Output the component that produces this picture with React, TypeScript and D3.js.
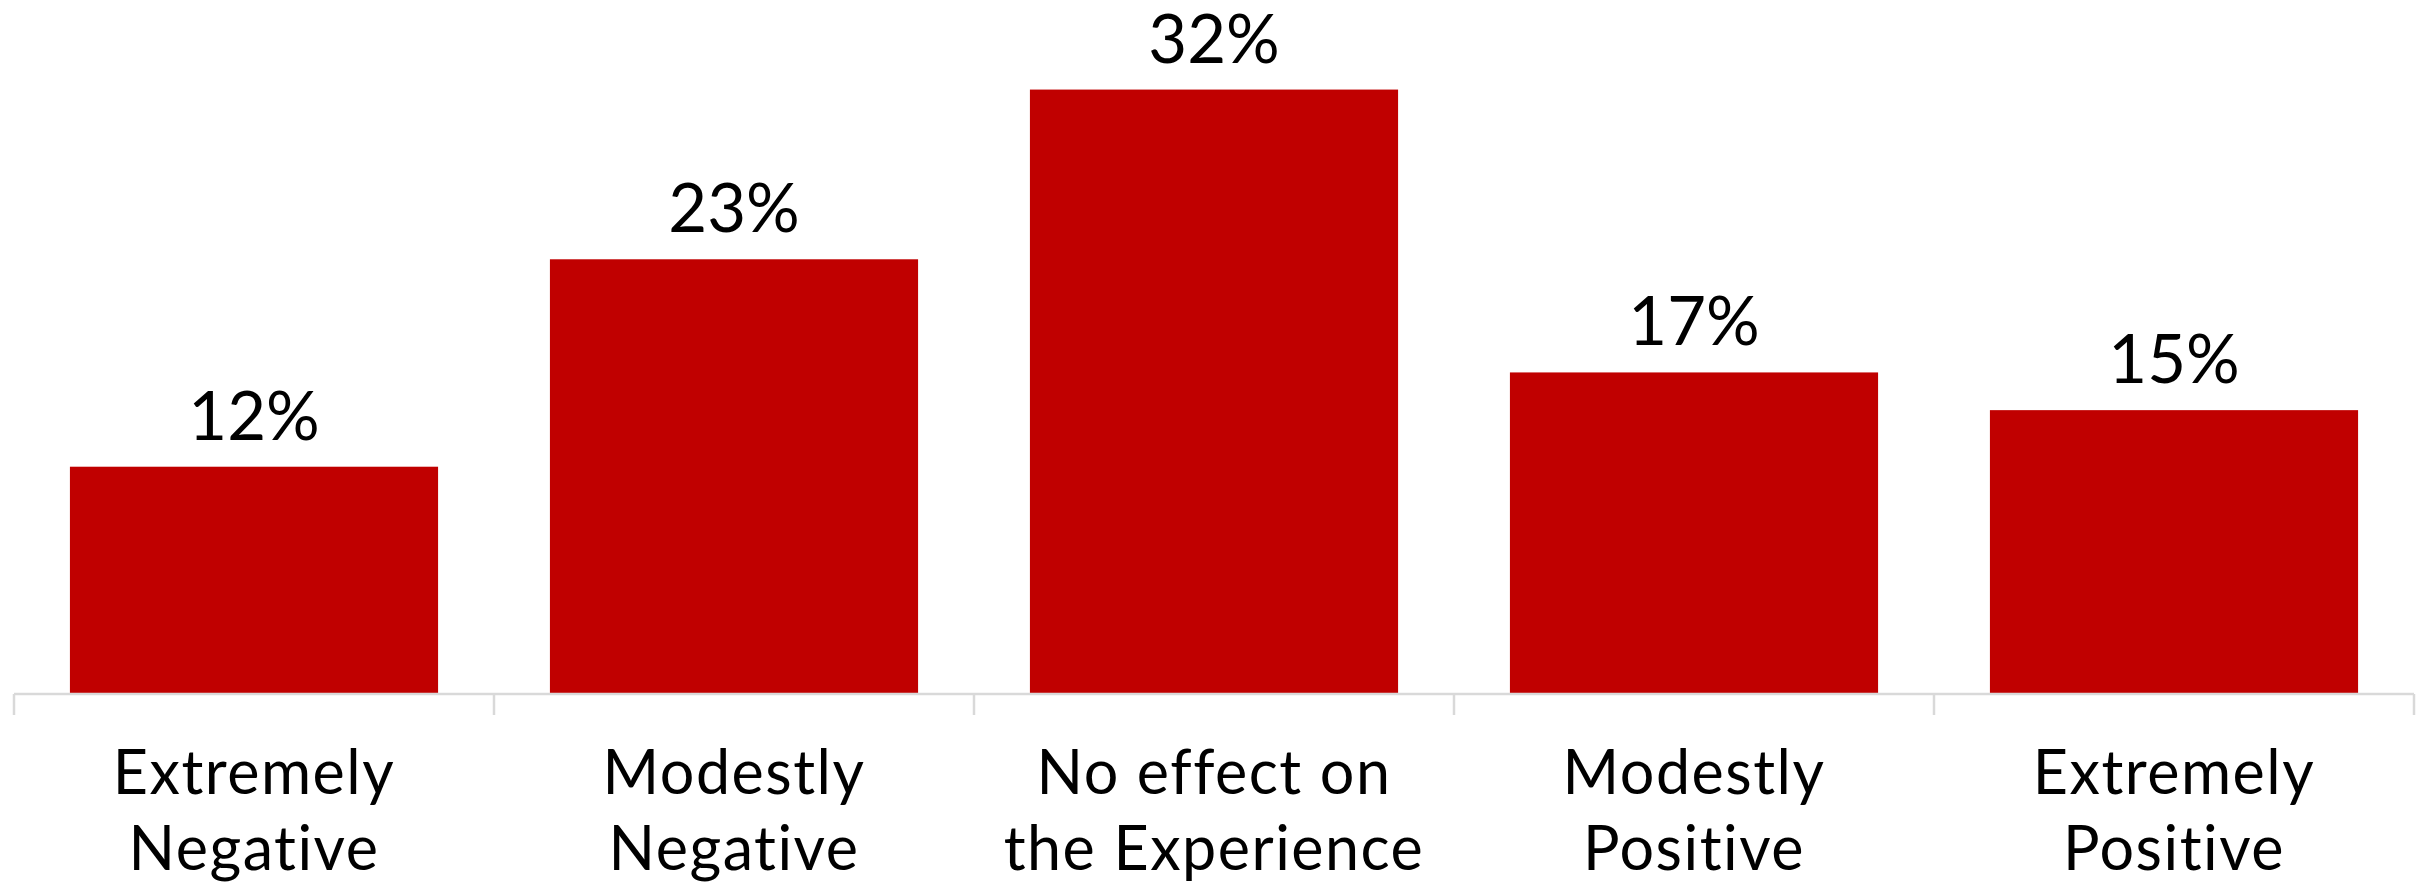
import React from "react";
import * as d3 from "d3";

const categories: string[][] = [
  ["Extremely", "Negative"],
  ["Modestly", "Negative"],
  ["No effect on", "the Experience"],
  ["Modestly", "Positive"],
  ["Extremely", "Positive"],
];
const values: number[] = [12, 23, 32, 17, 15];
const valueLabels: string[] = ["12%", "23%", "32%", "17%", "15%"];

const W = 2425;
const H = 882;
const FONT = "Lato, 'Open Sans', sans-serif";

export default function App() {
  const x = d3
    .scaleBand<number>()
    .domain(d3.range(values.length))
    .range([14, 2414])
    .paddingInner(0.233)
    .paddingOuter(0.1165);
  const y = d3.scaleLinear().domain([0, 35]).range([693, 33]);
  const ticks = d3.range(values.length + 1).map((i) => 14 + (i * (2414 - 14)) / values.length);

  return (
    <svg
      width={W}
      height={H}
      style={{ position: "absolute", left: 0, top: 0, background: "#fff" }}
    >
      {values.map((v, i) => (
        <rect
          key={i}
          x={x(i)}
          y={y(v)}
          width={x.bandwidth()}
          height={y(0) - y(v)}
          fill="#C00000"
        />
      ))}
      <line x1={14} x2={2414} y1={694} y2={694} stroke="#D9D9D9" strokeWidth={2.5} />
      {ticks.map((t, i) => (
        <line key={i} x1={t} x2={t} y1={694} y2={715} stroke="#D9D9D9" strokeWidth={2.5} />
      ))}
      {values.map((v, i) => (
        <text
          key={i}
          x={(x(i) as number) + x.bandwidth() / 2}
          y={y(v) - 27}
          textAnchor="middle"
          fontFamily={FONT}
          fontSize={67}
          fill="#000"
        >
          {valueLabels[i]}
        </text>
      ))}
      {categories.map((lines, i) => (
        <text
          key={i}
          x={(x(i) as number) + x.bandwidth() / 2}
          y={794}
          textAnchor="middle"
          fontFamily={FONT}
          fontSize={61}
          letterSpacing={1.5}
          fill="#000"
        >
          {lines.map((l, j) => (
            <tspan key={j} x={(x(i) as number) + x.bandwidth() / 2} dy={j === 0 ? 0 : 76}>
              {l}
            </tspan>
          ))}
        </text>
      ))}
    </svg>
  );
}
